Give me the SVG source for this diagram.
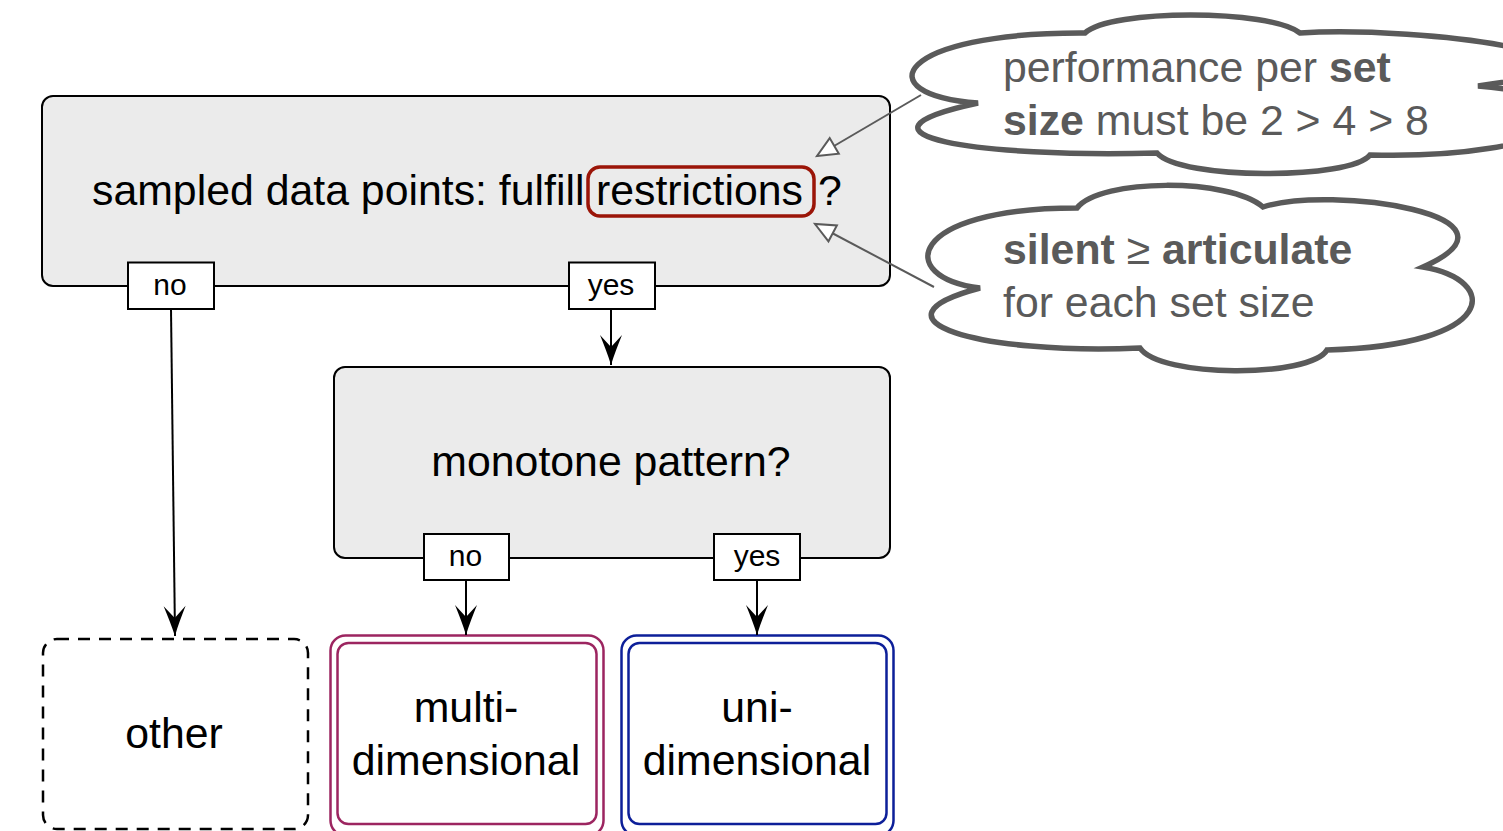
<svg xmlns="http://www.w3.org/2000/svg" width="1503" height="831" viewBox="0 0 1503 831">
<style>
  text { font-family: "Liberation Sans", Arial, Helvetica, sans-serif; }
  .box { fill: #ebebeb; stroke: #000; stroke-width: 2; }
  .lbl { fill: #fff; stroke: #000; stroke-width: 2; }
  .lbltxt { font-size: 30px; fill: #000; text-anchor: middle; }
  .big { font-size: 42.8px; fill: #000; text-anchor: middle; }
  .bigs { font-size: 42.8px; fill: #000; }
  .edge { fill: none; stroke: #000; stroke-width: 2; }
  .cedge { fill: none; stroke: #5a5a5a; stroke-width: 2; }
  .cloud { fill: #fff; stroke: #5a5a5a; stroke-width: 5.5; stroke-linejoin: miter; }
  .ctxt { font-size: 42.8px; fill: #5a5a5a; }
  .b { font-weight: bold; }
</style>
<defs>
  <marker id="arr" markerUnits="userSpaceOnUse" markerWidth="40" markerHeight="30" viewBox="-32 -15 34 30" refX="0" refY="0" orient="auto">
    <path d="M0,0 C-10,-3 -20,-7 -30,-11 L-18,0 L-30,11 C-20,7 -10,3 0,0 Z" fill="#000"/>
  </marker>
  <marker id="open" markerUnits="userSpaceOnUse" markerWidth="30" markerHeight="24" viewBox="-23 -12 25 24" refX="0" refY="0" orient="auto">
    <path d="M0,0 L-20,-9 L-20,9 Z" fill="#fff" stroke="#5a5a5a" stroke-width="2"/>
  </marker>
</defs>

<g id="n-restrictions">
  <rect class="box" x="42" y="96" width="848" height="190" rx="11"/>
  <rect x="588" y="167" width="226" height="49" rx="12" fill="none" stroke="#9b1508" stroke-width="3.5"/>
  <text class="bigs" y="205"><tspan x="92">sampled data points: fulfill </tspan><tspan x="596">restrictions</tspan><tspan x="818">?</tspan></text>
</g>

<g id="n-monotone">
  <rect class="box" x="334" y="367" width="556" height="191" rx="11"/>
  <text class="big" x="611" y="476">monotone pattern?</text>
</g>

<g id="n-other">
  <rect x="43" y="639" width="265" height="190" rx="14" fill="#fff" stroke="#000" stroke-width="2.5" stroke-dasharray="12 9"/>
  <text class="big" x="174" y="748">other</text>
</g>

<g id="n-multi">
  <rect x="330.5" y="635.5" width="273" height="200" rx="15" fill="#fff" stroke="#9c2560" stroke-width="2.5"/>
  <rect x="337.5" y="643" width="259" height="181" rx="11" fill="none" stroke="#9c2560" stroke-width="2.5"/>
  <text class="big" x="466" y="722">multi-</text>
  <text class="big" x="466" y="775">dimensional</text>
</g>

<g id="n-uni">
  <rect x="621.5" y="635.5" width="272" height="200" rx="15" fill="#fff" stroke="#0d1f99" stroke-width="2.5"/>
  <rect x="628.5" y="643" width="258" height="181" rx="11" fill="none" stroke="#0d1f99" stroke-width="2.5"/>
  <text class="big" x="757" y="722">uni-</text>
  <text class="big" x="757" y="775">dimensional</text>
</g>

<g id="connectors">
  <line class="edge" x1="171" y1="309" x2="175" y2="636" marker-end="url(#arr)"/>
  <line class="edge" x1="611" y1="309" x2="611" y2="365" marker-end="url(#arr)"/>
  <line class="edge" x1="466" y1="580" x2="466" y2="635" marker-end="url(#arr)"/>
  <line class="edge" x1="757" y1="580" x2="757" y2="635" marker-end="url(#arr)"/>
  <line class="cedge" x1="921" y1="95" x2="817" y2="156" marker-end="url(#open)"/>
  <line class="cedge" x1="934" y1="287" x2="815" y2="224" marker-end="url(#open)"/>
</g>

<g id="labels">
  <g id="l-no1"><rect class="lbl" x="128" y="262.5" width="86" height="46.5"/><text class="lbltxt" x="170" y="295">no</text></g>
  <g id="l-yes1"><rect class="lbl" x="569" y="262.5" width="86" height="46.5"/><text class="lbltxt" x="611" y="295">yes</text></g>
  <g id="l-no2"><rect class="lbl" x="424" y="534" width="85" height="46"/><text class="lbltxt" x="465.5" y="566">no</text></g>
  <g id="l-yes2"><rect class="lbl" x="714" y="534" width="86" height="46"/><text class="lbltxt" x="757" y="566">yes</text></g>
</g>

<g id="cloud-setsize">
  <path class="cloud" d="M 978 103 C 865 95, 895 32, 1085 33 C 1110 9, 1270 9, 1300 33 C 1420 25, 1680 60, 1478 86 C 1640 100, 1560 160, 1370 155 C 1350 180, 1180 180, 1157 153 C 980 158, 830 135, 978 103 Z"/>
  <text class="ctxt" x="1003" y="82">performance per <tspan class="b">set</tspan></text>
  <text class="ctxt" x="1003" y="135"><tspan class="b">size</tspan> must be 2 &gt; 4 &gt; 8</text>
</g>

<g id="cloud-silent">
  <path class="cloud" d="M 980 288 C 895 278, 905 208, 1077 208 C 1100 178, 1230 178, 1263 207 C 1330 185, 1540 215, 1423 267 C 1500 280, 1500 345, 1327 350 C 1310 378, 1160 378, 1140 348 C 980 355, 860 320, 980 288 Z"/>
  <text class="ctxt" x="1003" y="264"><tspan class="b">silent</tspan> ≥ <tspan class="b">articulate</tspan></text>
  <text class="ctxt" x="1003" y="317">for each set size</text>
</g>
</svg>
